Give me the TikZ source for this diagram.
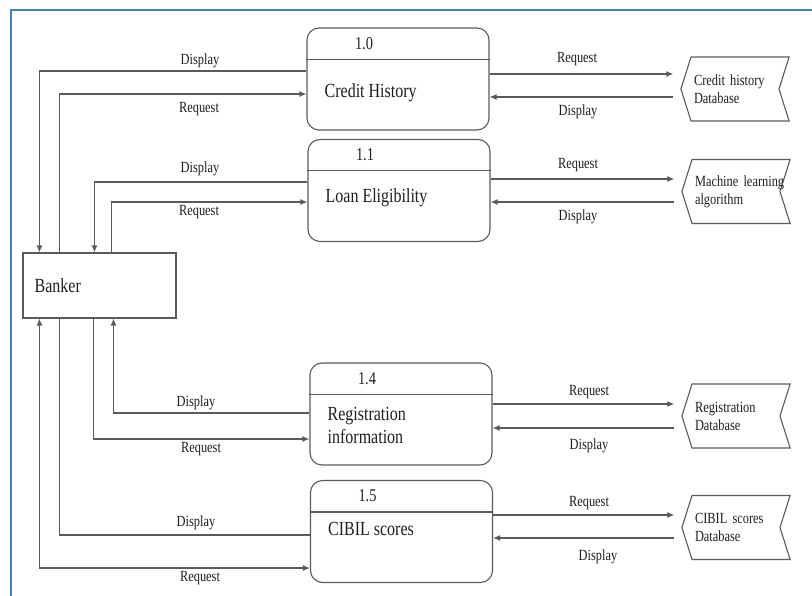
\documentclass[tikz,border=0pt]{standalone}
\usepackage{fontspec}
\setmainfont{Liberation Serif}[FakeStretch=0.8]
\usetikzlibrary{arrows.meta,shapes.symbols}
\definecolor{ink}{HTML}{1E1E1E}
\definecolor{wire}{HTML}{5A5A5A}
\definecolor{frame}{HTML}{4A7EBB}

\begin{document}
\begin{tikzpicture}[x=1pt, y=-1pt, >={Latex[length=7pt,width=6pt]},
    boxline/.style={draw=wire, line width=1.1pt},
    flowline/.style={draw=wire, line width=1.2pt},
    procbox/.style={boxline, rounded corners=12pt, minimum width=182pt, minimum height=102pt, inner sep=0pt},
    storebox/.style={boxline, shape=signal, signal to=west, signal from=east, signal pointer angle=145,
      minimum height=64pt, text width=82pt, inner xsep=3pt, inner ysep=0pt, align=left,
      font=\fontsize{15.5}{18}\selectfont, text=ink},
    lbl/.style={font=\fontsize{15.5}{18}\selectfont, text=ink, inner sep=0pt},
    idtext/.style={font=\fontsize{18}{20}\selectfont, text=ink, inner sep=0pt},
    proctext/.style={font=\fontsize{20}{23}\selectfont, text=ink, inner sep=0pt, align=left}]
  \useasboundingbox (0,0) rectangle (812,596);
  % Frame of the figure (top and left only).
  \draw[frame, line width=2pt] (11,596) -- (11,10) -- (812,10);
  % The external entity.
  \node[boxline, minimum width=153pt, minimum height=65pt, inner sep=0pt] (banker) at (99.5,285.5) {};
  \node[proctext, anchor=west] (banker-txt) at ([xshift=12pt]banker.west) {Banker};
  % The processes.
  \foreach \n/\x/\y in {p10/398/79, p11/399/190.5, p14/401/414, p15/401.5/531.5} {
    \node[procbox] (\n) at (\x,\y) {};
    \draw[boxline] ([yshift=-32pt]\n.north west) -- ([yshift=-32pt]\n.north east);
  }
  \foreach \n/\id/\dy/\txt in {p10/1.0/65pt/{Credit History}, p11/1.1/59pt/{Loan Eligibility},
      p14/1.4/63.5pt/{Registration\\information}, p15/1.5/49pt/{CIBIL scores}} {
    \node[idtext] (\n-id) at ([xshift=-34pt, yshift=-16pt]\n.north) {\id};
    \node[proctext, anchor=west] (\n-txt) at ([xshift=18pt, yshift=-\dy]\n.north west) {\txt};
  }
  % The data stores.
  \foreach \n/\x/\y/\txt in {st10/735/89/{Credit history\\Database}, st11/736/191.5/{\mbox{Machine learning}\\algorithm},
      st14/736/416/{Registration\\Database}, st15/736/527.5/{CIBIL scores\\Database}} {
    \node[storebox] (\n) at (\x,\y) {\txt};
  }
  % Flows between processes and stores.
  \foreach \p/\s/\a/\b in {p10/st10/5pt/-18pt, p11/st11/11.5pt/-11.5pt, p14/st14/10pt/-14pt, p15/st15/16.5pt/-6.5pt} {
    \draw[flowline, ->] ([yshift=\a]\p.east) -- ([yshift=\a, xshift=-7pt]\p.east -| \s.west);
    \draw[flowline, <-] ([yshift=\b]\p.east) -- ([yshift=\b, xshift=-7pt]\p.east -| \s.west);
  }
  % Flows between the banker and the processes.
  \draw[flowline, ->] ([yshift=8pt]p10.west) -| ([xshift=17pt]banker.north west);
  \draw[flowline, ->] ([xshift=37pt]banker.north west) |- ([yshift=-15pt]p10.west);
  \draw[flowline, ->] ([yshift=8.5pt]p11.west) -| ([xshift=72pt]banker.north west);
  \draw[flowline, ->] ([xshift=89pt]banker.north west) |- ([yshift=-11.5pt]p11.west);
  \draw[flowline, ->] ([yshift=1pt]p14.west) -| ([xshift=91pt]banker.south west);
  \draw[flowline, ->] ([xshift=71pt]banker.south west) |- ([yshift=-25pt]p14.west);
  \draw[flowline] ([yshift=-3.5pt]p15.west) -| ([xshift=37pt]banker.south west);
  \draw[flowline, <->] ([xshift=17pt]banker.south west) |- ([yshift=-36.5pt]p15.west);
  % Flow labels.
  \foreach \t/\x/\y [count=\i] in {Display/200/61, Request/199/109, Display/200/169, Request/199/212,
      Display/196/403, Request/201/449, Display/196/523, Request/200/578,
      Request/577/59, Display/578/112, Request/578/165, Display/578/217,
      Request/589/392, Display/589/446, Request/589/503, Display/598/557} {
    \node[lbl] (lbl\i) at (\x,\y) {\t};
  }
\end{tikzpicture}
\end{document}
